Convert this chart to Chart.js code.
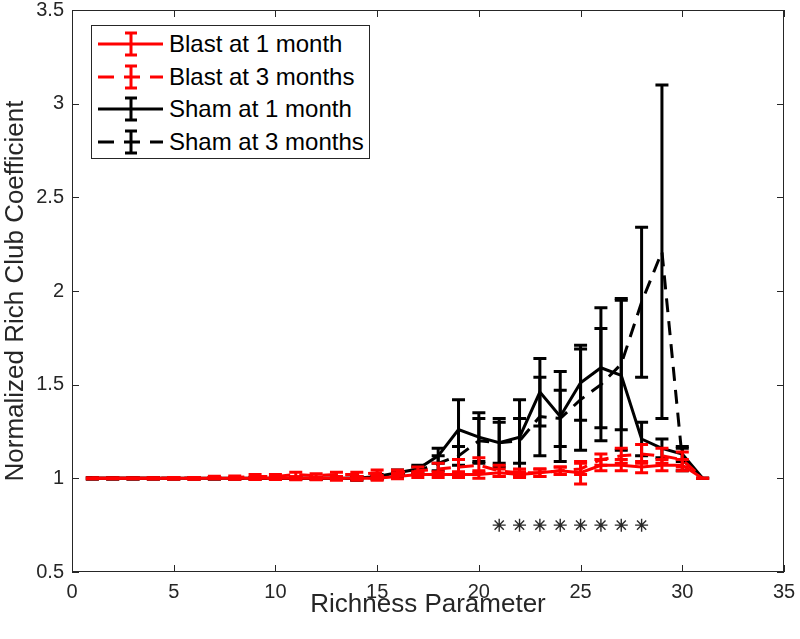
<!DOCTYPE html>
<html>
<head>
<meta charset="utf-8">
<script src="https://cdn.jsdelivr.net/npm/chart.js@4/dist/chart.umd.min.js"></script>
<style>
  body { margin: 0; background: #fff; }
  #wrap { position: relative; width: 800px; height: 639px; }
  #legend {
    position: absolute; left: 91px; top: 25px; width: 277px; height: 132px;
    border: 1px solid #262626; background: #fff;
    font-family: "Liberation Sans", Arial, sans-serif; font-size: 24px; color: #000;
  }
  .row { position: absolute; left: 0; height: 33px; line-height: 33px; }
  .row svg { position: absolute; left: 5px; top: 4px; }
  .row span { position: absolute; left: 77px; white-space: nowrap; }
</style>
</head>
<body>
<div id="wrap">
  <canvas id="rcChart" width="800" height="639"></canvas>
  <div id="legend"></div>
</div>
<script>
// richness parameter k
const richness = [1, 2, 3, 4, 5, 6, 7, 8, 9, 10, 11, 12, 13, 14, 15, 16, 17, 18, 19, 20, 21, 22, 23, 24, 25, 26, 27, 28, 29, 30, 31];

const blast1Mean = [1.0, 1.0, 1.0, 1.0, 1.0, 1.0, 1.0, 1.0, 1.0, 1.0, 1.0, 1.0, 1.0, 1.0, 1.0, 1.01, 1.02, 1.02, 1.02, 1.02, 1.03, 1.02, 1.03, 1.04, 1.03, 1.07, 1.07, 1.06, 1.07, 1.07, 1.0];
const blast1Err  = [0.002, 0.002, 0.002, 0.002, 0.003, 0.003, 0.004, 0.005, 0.006, 0.006, 0.008, 0.008, 0.01, 0.01, 0.01, 0.012, 0.015, 0.015, 0.015, 0.02, 0.02, 0.015, 0.02, 0.02, 0.06, 0.03, 0.03, 0.03, 0.03, 0.03, 0.0];

const blast3Mean = [1.0, 1.0, 1.0, 1.0, 1.0, 1.0, 1.005, 1.005, 1.01, 1.01, 1.02, 1.015, 1.02, 1.02, 1.03, 1.03, 1.04, 1.05, 1.06, 1.07, 1.04, 1.03, 1.03, 1.04, 1.05, 1.1, 1.12, 1.13, 1.12, 1.1, 1.0];
const blast3Err  = [0.002, 0.002, 0.002, 0.003, 0.004, 0.005, 0.006, 0.008, 0.01, 0.01, 0.012, 0.01, 0.012, 0.012, 0.015, 0.015, 0.02, 0.03, 0.04, 0.04, 0.03, 0.02, 0.02, 0.02, 0.03, 0.03, 0.04, 0.05, 0.04, 0.04, 0.0];

const sham1Mean = [1.0, 1.0, 1.0, 1.0, 1.0, 1.0, 1.0, 1.0, 1.0, 1.0, 1.0, 1.0, 1.0, 1.0, 1.01, 1.03, 1.05, 1.12, 1.26, 1.22, 1.19, 1.22, 1.46, 1.33, 1.51, 1.59, 1.55, 1.21, 1.16, 1.13, 1.0];
const sham1Err  = [0.003, 0.003, 0.003, 0.003, 0.003, 0.003, 0.003, 0.003, 0.003, 0.003, 0.004, 0.005, 0.006, 0.01, 0.01, 0.015, 0.02, 0.04, 0.16, 0.13, 0.11, 0.2, 0.18, 0.24, 0.2, 0.32, 0.4, 0.09, 0.05, 0.04, 0.0];

const sham3Mean = [1.0, 1.0, 1.0, 1.0, 1.0, 1.0, 1.0, 1.0, 1.0, 1.0, 1.0, 1.0, 1.0, 1.0, 1.005, 1.02, 1.04, 1.08, 1.12, 1.2, 1.19, 1.2, 1.33, 1.32, 1.42, 1.5, 1.61, 1.94, 2.21, 1.1, 1.0];
const sham3Err  = [0.003, 0.003, 0.003, 0.003, 0.003, 0.003, 0.003, 0.003, 0.003, 0.003, 0.004, 0.005, 0.006, 0.008, 0.01, 0.015, 0.02, 0.04, 0.05, 0.12, 0.13, 0.12, 0.21, 0.15, 0.27, 0.3, 0.35, 0.4, 0.89, 0.06, 0.0];

// significance markers
const starX = [21, 22, 23, 24, 25, 26, 27, 28];
const starY = 0.75;

const seriesLabels = ["Blast at 1 month", "Blast at 3 months", "Sham at 1 month", "Sham at 3 months"];
const seriesColors = ["#FF0000", "#FF0000", "#000000", "#000000"];
const seriesDashes = [[], [14, 9], [], [14, 9]];

const xTicks = [0, 5, 10, 15, 20, 25, 30, 35];
const yTicks = [0.5, 1, 1.5, 2, 2.5, 3, 3.5];

Chart.defaults.font.family = '"Liberation Sans", Arial, sans-serif';
Chart.defaults.color = '#262626';

function toPoints(ys) {
    return richness.map(function (k, i) { return { x: k, y: ys[i] }; });
}

const means = [blast1Mean, blast3Mean, sham1Mean, sham3Mean];
const errs = [blast1Err, blast3Err, sham1Err, sham3Err];

const datasets = [];
for (let s = 0; s < 4; s++) {
    datasets.push({
        label: seriesLabels[s],
        data: toPoints(means[s]),
        errors: errs[s],
        borderColor: seriesColors[s],
        borderWidth: 3,
        borderDash: seriesDashes[s],
        pointRadius: 0,
        tension: 0,
        fill: false
    });
}
datasets.push({
    label: "stars",
    data: starX.map(function (k) { return { x: k, y: starY }; }),
    showLine: false,
    pointStyle: 'star',
    pointRadius: 6.5,
    borderColor: '#2a2a2a',
    backgroundColor: '#2a2a2a',
    pointBorderWidth: 1.4
});

// error bars drawn right after each line, like MATLAB errorbar()
const errorBars = {
    id: 'errorBars',
    afterDatasetDraw: function (chart, args) {
        const ds = chart.data.datasets[args.index];
        if (!ds.errors) return;
        const yScale = chart.scales.y;
        const ctx = chart.ctx;
        ctx.save();
        ctx.strokeStyle = ds.borderColor;
        ctx.lineWidth = 3;
        ctx.setLineDash([]);
        args.meta.data.forEach(function (pt, i) {
            const v = ds.data[i].y;
            const e = ds.errors[i];
            const yTop = yScale.getPixelForValue(v + e);
            const yBot = yScale.getPixelForValue(v - e);
            ctx.beginPath();
            ctx.moveTo(pt.x, yTop); ctx.lineTo(pt.x, yBot);
            ctx.moveTo(pt.x - 6.5, yTop); ctx.lineTo(pt.x + 6.5, yTop);
            ctx.moveTo(pt.x - 6.5, yBot); ctx.lineTo(pt.x + 6.5, yBot);
            ctx.stroke();
        });
        ctx.restore();
    }
};

// box around the axes with inward tick marks
const axesBox = {
    id: 'axesBox',
    afterDraw: function (chart) {
        const a = chart.chartArea;
        const ctx = chart.ctx;
        const xs = chart.scales.x, ys = chart.scales.y;
        ctx.save();
        ctx.strokeStyle = '#262626';
        ctx.lineWidth = 1;
        ctx.strokeRect(Math.round(a.left) + 0.5, Math.round(a.top) + 0.5,
            Math.round(a.right - a.left) - 1, Math.round(a.bottom - a.top) - 1);
        ctx.beginPath();
        xTicks.forEach(function (t) {
            const px = Math.round(xs.getPixelForValue(t)) + 0.5;
            ctx.moveTo(px, a.bottom); ctx.lineTo(px, a.bottom - 7);
            ctx.moveTo(px, a.top); ctx.lineTo(px, a.top + 7);
        });
        yTicks.forEach(function (t) {
            const py = Math.round(ys.getPixelForValue(t)) + 0.5;
            ctx.moveTo(a.left, py); ctx.lineTo(a.left + 7, py);
            ctx.moveTo(a.right, py); ctx.lineTo(a.right - 7, py);
        });
        ctx.stroke();
        ctx.restore();
    }
};

var ctx = document.getElementById('rcChart');
var rcChart = new Chart(ctx, {
    type: 'line',
    data: { datasets: datasets },
    options: {
        responsive: false,
        animation: false,
        devicePixelRatio: 1,
        layout: { padding: { top: 10, right: 16, left: 0, bottom: 0 } },
        plugins: { legend: { display: false }, tooltip: { enabled: false } },
        scales: {
            x: {
                type: 'linear', min: 0, max: 35,
                afterBuildTicks: function (scale) { scale.ticks = xTicks.map(function (v) { return { value: v }; }); },
                afterFit: function (scale) {
                    scale.height = 67;
                    scale.paddingLeft = 0; scale.paddingRight = 0;
                },
                grid: { display: false, drawTicks: false },
                border: { display: false },
                ticks: { font: { size: 20 }, padding: 8, maxRotation: 0, color: '#262626' },
                title: { display: true, text: 'Richness Parameter', font: { size: 26 }, color: '#262626', padding: { top: 0, bottom: 19 } }
            },
            y: {
                type: 'linear', min: 0.5, max: 3.5,
                afterBuildTicks: function (scale) { scale.ticks = yTicks.map(function (v) { return { value: v }; }); },
                afterFit: function (scale) {
                    scale.width = 72;
                    scale.paddingTop = 0; scale.paddingBottom = 0;
                },
                grid: { display: false, drawTicks: false },
                border: { display: false },
                ticks: { font: { size: 20 }, padding: 8, color: '#262626', callback: function (v) { return String(v); } },
                title: { display: true, text: 'Normalized Rich Club Coefficient', font: { size: 26 }, color: '#262626', padding: { top: 0, bottom: 0 } }
            }
        }
    },
    plugins: [errorBars, axesBox]
});

// MATLAB style legend with errorbar glyphs
const legendEl = document.getElementById('legend');
seriesLabels.forEach(function (lab, s) {
    const row = document.createElement('div');
    row.className = 'row';
    row.style.top = (1 + s * 32.6) + 'px';
    const dash = seriesDashes[s].length ? ' stroke-dasharray="16 10"' : '';
    row.innerHTML =
        '<svg width="70" height="26">' +
        '<line x1="1" y1="13" x2="66" y2="13" stroke="' + seriesColors[s] + '" stroke-width="3"' + dash + '/>' +
        '<line x1="34" y1="2" x2="34" y2="24" stroke="' + seriesColors[s] + '" stroke-width="3"/>' +
        '<line x1="28" y1="2" x2="40" y2="2" stroke="' + seriesColors[s] + '" stroke-width="3"/>' +
        '<line x1="28" y1="24" x2="40" y2="24" stroke="' + seriesColors[s] + '" stroke-width="3"/>' +
        '</svg><span>' + lab + '</span>';
    legendEl.appendChild(row);
});
</script>
</body>
</html>
